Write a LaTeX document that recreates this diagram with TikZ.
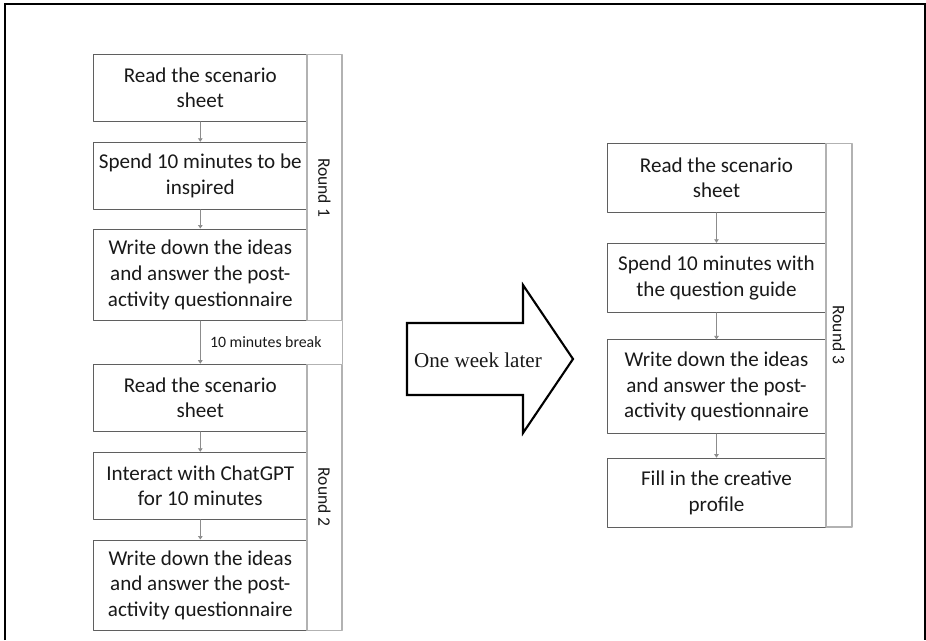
\documentclass[tikz,border=0pt]{standalone}
\usepackage{fontspec}
\setmainfont{Carlito}
\newfontfamily\seriffont{Liberation Serif}
\usepackage[usenames]{xcolor}
\usepackage{tikz}
\usetikzlibrary{arrows.meta}
\definecolor{boxgray}{RGB}{95,95,95}
\definecolor{cellgray}{RGB}{178,178,178}
\definecolor{flowgray}{RGB}{140,140,140}
\definecolor{inkgray}{RGB}{25,25,25}

\begin{document}
\begin{tikzpicture}[line cap=round,line join=round,>={Triangle[length=2pt,width=2.6pt]},x=0.02cm,y=-0.02cm,
  stagebox/.style={draw=boxgray,line width=0.6pt,text=inkgray,align=center,inner sep=0pt,font=\fontsize{12}{14.6}\selectfont},
  leftbox/.style={stagebox,minimum width=4.28cm,minimum height=1.34cm},
  rightbox/.style={stagebox,minimum width=4.38cm,minimum height=1.38cm},
  roundcell/.style={draw=cellgray,line width=0.6pt,text=inkgray,inner sep=0pt,rotate=-90,font=\fontsize{10}{12}\selectfont},
  flow/.style={->,draw=flowgray,line width=0.4pt}]
\useasboundingbox (0,0) rectangle (926,640);
\draw[line width=1.2pt,line cap=butt,line join=miter] (5,640) -- (5,4) -- (925,4) -- (925,640);
\node[leftbox] (l1) at (200.3,87.7) {Read the scenario\\sheet};
\node[leftbox] (l2) at (200.3,175.8) {Spend 10 minutes to be\\inspired};
\node[leftbox,minimum height=1.83cm] (l3) at (200.3,274.8) {Write down the ideas\\and answer the post-\\activity questionnaire};
\node[leftbox] (l4) at (200.3,397.7) {Read the scenario\\sheet};
\node[leftbox] (l5) at (200.3,485.8) {Interact with ChatGPT\\for 10 minutes};
\node[leftbox,minimum height=1.81cm] (l6) at (200.3,585.3) {Write down the ideas\\and answer the post-\\activity questionnaire};
\node[roundcell,minimum width=5.33cm,minimum height=0.7cm] (r1) at (324.5,187.5) {Round 1};
\node[roundcell,minimum width=5.32cm,minimum height=0.7cm] (r2) at (324.5,497.3) {Round 2};
\draw[draw=cellgray,line width=0.6pt] (r1.north east) -- (r2.north west);
\draw[flow] (l1) -- (l2);
\draw[flow] (l2) -- (l3);
\draw[flow] (l3) -- node[right,xshift=2pt,text=inkgray,font=\fontsize{9}{11}\selectfont] (brk) {10 minutes break} (l4);
\draw[flow] (l4) -- (l5);
\draw[flow] (l5) -- (l6);
\draw[line width=1.2pt,line join=miter] (407,323) -- (523,323) -- (523,285) -- (573,359) -- (523,433) -- (523,395) -- (407,395) -- cycle;
\node[text=inkgray,font=\seriffont\fontsize{12}{14}\selectfont] (later) at (478,360) {One week later};
\node[rightbox] (m1) at (716.5,177.8) {Read the scenario\\sheet};
\node[rightbox] (m2) at (716.5,277.8) {Spend 10 minutes with\\the question guide};
\node[rightbox,minimum height=1.87cm] (m3) at (716.5,386.7) {Write down the ideas\\and answer the post-\\activity questionnaire};
\node[rightbox] (m4) at (716.5,492.7) {Fill in the creative\\profile};
\node[roundcell,minimum width=7.68cm,minimum height=0.52cm] (r3) at (839,335) {Round 3};
\draw[flow] (m1) -- (m2);
\draw[flow] (m2) -- (m3);
\draw[flow] (m3) -- (m4);
\end{tikzpicture}
\end{document}
